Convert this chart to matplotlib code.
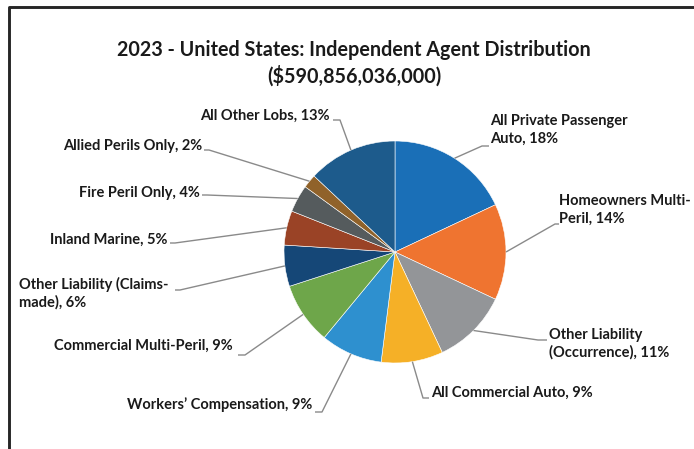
import numpy as np
import matplotlib
matplotlib.use("Agg")
import matplotlib.pyplot as plt

categories = [
    "All Private Passenger\nAuto", "Homeowners Multi-\nPeril", "Other Liability\n(Occurrence)",
    "All Commercial Auto", "Workers\u2019 Compensation", "Commercial Multi-Peril",
    "Other Liability (Claims-\nmade)", "Inland Marine", "Fire Peril Only",
    "Allied Perils Only", "All Other Lobs",
]
values = [18, 14, 11, 9, 9, 9, 6, 5, 4, 2, 13]
colors = ["#1a6fb7", "#ef7430", "#939598", "#f5b027", "#2e90cf", "#6ea64a",
          "#154777", "#9a4326", "#555b5d", "#90622a", "#1d5b8c"]
title = "2023 - United States: Independent Agent Distribution\n($590,856,036,000)"

plt.rcParams["font.family"] = ["Lato", "DejaVu Sans"]

W, H = 694, 449
fig = plt.figure(figsize=(W / 100, H / 100), dpi=100)
ax = fig.add_axes([0, 0, 1, 1])

cx, cy, r = 395, 252, 111
# y axis is inverted below, so start at -90 (visual top) and go clockwise on screen
wedges, _ = ax.pie(values, colors=colors, startangle=-90, counterclock=True,
                   center=(cx, cy), radius=r, frame=True,
                   wedgeprops=dict(linewidth=0.4, edgecolor="white"))
ax.set_xlim(0, W)
ax.set_ylim(H, 0)
ax.axis("off")

# label layout: (text x, text y, ha, elbow x, elbow y, end x)
layout = [
    (490, 130, "left", 482, 146, 489),
    (559, 210, "left", 555, 224, 559),
    (549, 344, "left", 538, 340, 547),
    (431, 393, "left", 423, 398, 429),
    (312, 405, "right", 322, 412, 315),
    (233, 346, "right", 245, 355, 238),
    (19, 293, "left", 180, 290, 175),
    (168, 240, "right", 175, 243, 170),
    (200, 193, "right", 207, 195, 202),
    (202, 146, "right", 209, 150, 204),
    (330, 116, "right", 340, 120, 333),
]

for w, cat, v, (tx, ty, ha, ex, ey, endx) in zip(wedges, categories, values, layout):
    mid = np.deg2rad((w.theta1 + w.theta2) / 2)
    px = cx + r * np.cos(mid)
    py = cy + r * np.sin(mid)
    ax.plot([px, ex, endx], [py, ey, ey], color="#8a8a8a", lw=1.0, solid_capstyle="butt")
    ax.text(tx, ty, f"{cat}, {v}%", ha=ha, va="center", fontsize=10.5,
            fontweight="bold", color="#1a1a1a", linespacing=1.3)

ax.text(354, 63, title, ha="center", va="center", fontsize=14.2,
        fontweight="bold", color="#1a1a1a", linespacing=1.3)

# frame (left and top edges)
ax.plot([9.5, 9.5, W], [H, 6.5, 6.5], color="#262626", lw=2.1, solid_capstyle="butt")

fig.savefig("out.png", dpi=100)
